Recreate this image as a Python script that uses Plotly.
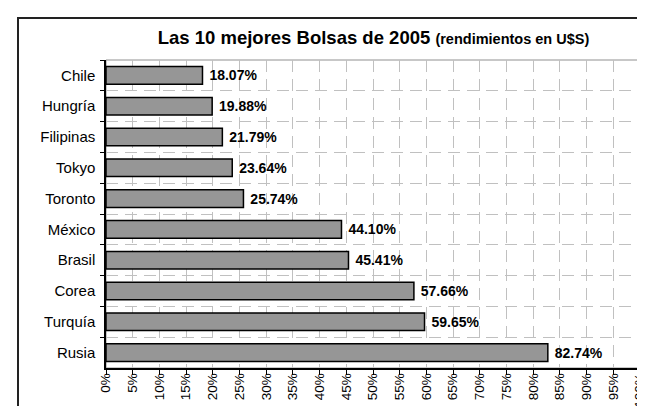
import plotly.graph_objects as go

countries = ["Chile", "Hungría", "Filipinas", "Tokyo", "Toronto", "México", "Brasil", "Corea", "Turquía", "Rusia"]
returns_pct = [18.07, 19.88, 21.79, 23.64, 25.74, 44.10, 45.41, 57.66, 59.65, 82.74]
x_ticks = list(range(0, 101, 5))
x_tick_labels = [f"{v}%" for v in x_ticks]

FONT = "Liberation Sans, Arial, sans-serif"

# plot area in pixels: x 98..632, y 52..360
L, R, T, B = 98, 632, 52, 360
PW, PH = R - L, B - T

fig = go.Figure(go.Bar(
    x=returns_pct,
    y=countries,
    orientation="h",
    marker=dict(color="#969696", line=dict(color="black", width=1.5)),
    text=["\u00a0" + f"{v:.2f}%" for v in returns_pct],
    textposition="outside",
    textfont=dict(family=FONT, size=14, color="black", weight="bold"),
    cliponaxis=False,
    width=0.57,
))

fig.update_layout(
    width=645, height=406,
    margin=dict(l=L, r=645 - R, t=T, b=406 - B, autoexpand=False),
    paper_bgcolor="white",
    plot_bgcolor="white",
    showlegend=False,
    font=dict(family=FONT, size=14, color="black"),
    title=dict(
        text="<b>Las 10 mejores Bolsas de 2005</b> <b><span style='font-size:14.5px'>(rendimientos en U$S)</span></b>",
        font=dict(family=FONT, size=18.5, color="black"),
        x=(365.5 - L) / PW, xref="paper", xanchor="center",
        y=1 - 30 / 406, yref="container", yanchor="middle",
    ),
    xaxis=dict(
        range=[0, 100],
        tickvals=x_ticks,
        ticktext=x_tick_labels,
        tickangle=-90,
        ticks="outside", ticklen=5, tickcolor="black", tickwidth=1,
        ticklabelstandoff=-7,
        showline=True, linecolor="black", linewidth=1.5,
        showgrid=True, gridcolor="#c0c0c0", gridwidth=1, griddash="12px,7px",
        zeroline=False,
        tickfont=dict(size=13.5),
        automargin=False,
    ),
    yaxis=dict(
        autorange="reversed",
        tickson="boundaries",
        ticks="outside", ticklen=4, tickcolor="black", tickwidth=1,
        ticklabelstandoff=6,
        showline=True, linecolor="black", linewidth=1.5,
        showgrid=True, gridcolor="#c0c0c0", gridwidth=1, griddash="12px,7px",
        tickfont=dict(size=15),
        automargin=False,
    ),
    shapes=[
        dict(type="rect", xref="paper", yref="paper", x0=0, x1=1, y0=0, y1=1,
             line=dict(color="#909090", width=1), layer="below"),
        dict(type="rect", xref="paper", yref="paper",
             x0=(10 - L) / PW, x1=1.2, y0=-0.3, y1=(B - 10) / PH,
             line=dict(color="#222222", width=2), layer="above"),
    ],
)

fig.write_html("out.html")
